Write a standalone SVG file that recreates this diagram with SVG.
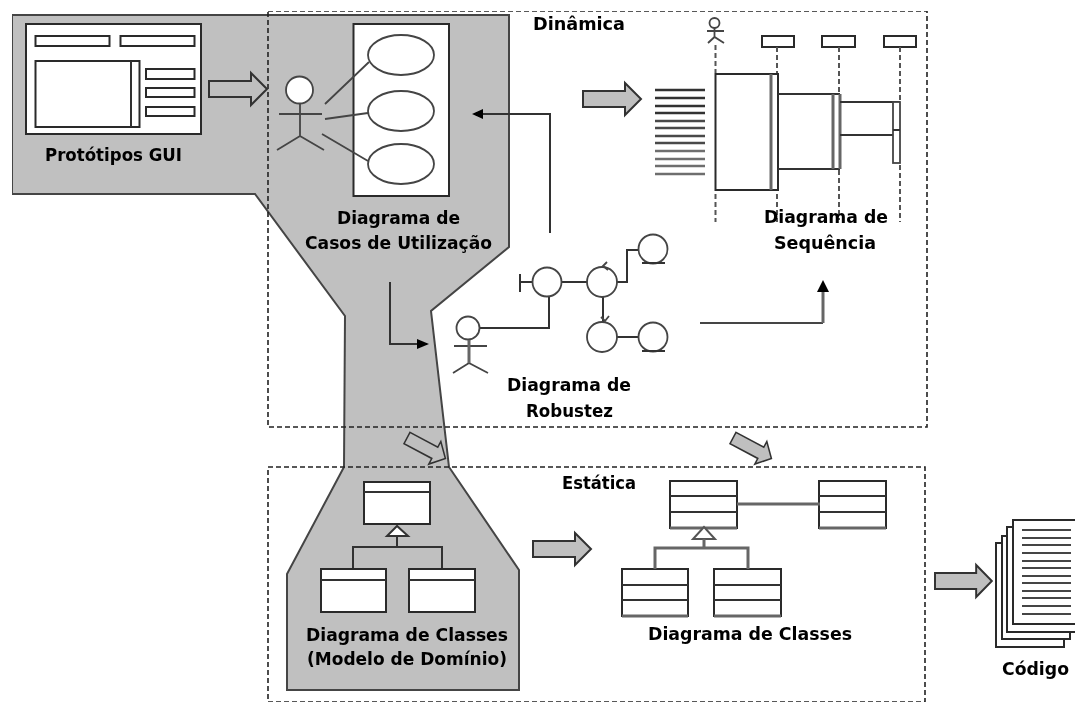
<svg xmlns="http://www.w3.org/2000/svg" width="1075" height="704" viewBox="0 0 1075 704">
<defs>
<style>
.t{font-family:"DejaVu Sans","Liberation Sans",sans-serif;font-weight:bold;font-size:17.5px;fill:#000;text-anchor:start}
.box{fill:#fff;stroke:#2a2a2a;stroke-width:2}
.ln{fill:none;stroke:#333;stroke-width:2}
.ln1{fill:none;stroke:#444;stroke-width:1.8}
.g{fill:none;stroke:#666;stroke-width:3}
.c{fill:#fff;stroke:#444;stroke-width:1.8}
.arw{fill:#bfbfbf;stroke:#333;stroke-width:2}
.ds{fill:none;stroke:#222;stroke-width:1.6;stroke-dasharray:5 3}
.ll{fill:none;stroke:#555;stroke-width:2;stroke-dasharray:5 3}
.head{fill:#000}
</style>
<filter id="soft" x="0" y="0" width="100%" height="100%"><feGaussianBlur stdDeviation="0.45"/></filter>
<polygon id="block" points="0,-8 42,-8 42,-16 58,0 42,16 42,8 0,8"/>
</defs>
<rect width="1075" height="704" fill="#fff"/>
<g filter="url(#soft)">
<g id="regiao-cinza"><polygon points="12,15 509,15 509,247 431,311 449,467 519,570 519,690 287,690 287,574 344,467 345,316 255,194 12,194" fill="#c0c0c0" stroke="#444" stroke-width="2"/></g>
<g id="dinamica"><rect class="ds" x="268" y="11" width="659" height="416"/><text class="t" x="533" y="30" textLength="92" lengthAdjust="spacingAndGlyphs">Dinâmica</text></g>
<g id="estatica"><rect class="ds" x="268" y="467" width="657" height="235"/><text class="t" x="562" y="489" textLength="74" lengthAdjust="spacingAndGlyphs">Estática</text></g>
<g id="prototipos">
<rect class="box" x="26" y="24" width="175" height="110"/>
<rect class="box" x="35.500" y="36" width="74" height="10"/>
<rect class="box" x="120.500" y="36" width="74" height="10"/>
<rect class="box" x="35.500" y="61" width="104" height="66"/>
<path class="ln" d="M131 61V127"/>
<rect class="box" x="146" y="69" width="48.500" height="10"/>
<rect class="box" x="146" y="88" width="48.500" height="9"/>
<rect class="box" x="146" y="107" width="48.500" height="9"/>
<text class="t" x="45" y="161" textLength="137" lengthAdjust="spacingAndGlyphs">Protótipos GUI</text>
</g>
<g id="casos-de-utilizacao">
<rect class="box" x="353.500" y="24" width="95.500" height="172"/>
<ellipse class="c" cx="401" cy="55" rx="33" ry="20"/>
<ellipse class="c" cx="401" cy="111" rx="33" ry="20"/>
<ellipse class="c" cx="401" cy="164" rx="33" ry="20"/>
<circle class="c" cx="299.500" cy="90" r="13.500"/>
<path class="ln1" d="M300 104V136M279 114H322M277 150L300 136L324 150M325 104L369 62M325 119L368 113M322 134L368 161"/>
<text class="t" x="337" y="224" textLength="123" lengthAdjust="spacingAndGlyphs">Diagrama de</text>
<text class="t" x="305" y="249" textLength="187" lengthAdjust="spacingAndGlyphs">Casos de Utilização</text>
</g>
<g id="sequencia">
<circle cx="714.500" cy="23" r="5" class="c"/>
<path class="ln1" d="M714.500 28V37M707 31H724M708 43L714.500 37L724 43"/>
<rect class="box" x="762" y="36" width="32" height="11"/>
<rect class="box" x="822" y="36" width="33" height="11"/>
<rect class="box" x="884" y="36" width="32" height="11"/>
<path class="ll" d="M715.500 45V73M715.500 194V222M777 47V73M777 194V222M839 47V94M839 170V220M900 47V100M900 165V222"/>
<g fill="none" stroke-width="2.500">
<path stroke="#333" d="M655 90H705M655 98H705M655 106H705M655 113H705"/>
<path stroke="#4a4a4a" d="M655 121H705M655 128H705M655 136H705M655 143H705"/>
<path stroke="#6e6e6e" d="M655 151H705M655 159H705M655 166H705M655 174H705"/>
</g>
<rect class="box" x="715.500" y="74" width="62.500" height="116"/>
<path class="g" d="M771 74V190"/>
<path class="ln" d="M778 94H840M778 169H840"/>
<path class="g" d="M833 94V169M840 94V169"/>
<path class="ln" d="M840 102H900M840 135H900"/>
<rect fill="#fff" stroke="#444" stroke-width="1.800" x="893" y="102" width="7" height="61"/>
<path class="ln" d="M893 130H900"/>
<text class="t" x="764" y="223" textLength="124" lengthAdjust="spacingAndGlyphs">Diagrama de</text>
<text class="t" x="774" y="249" textLength="102" lengthAdjust="spacingAndGlyphs">Sequência</text>
</g>
<g id="robustez">
<path class="ln" d="M520 274V292M520 282H533M562 282H587M617 282H627V250H639M603 296V322M617 337H639M480 328H549V296"/>
<circle class="c" cx="547" cy="282" r="14.500"/>
<circle class="c" cx="602" cy="282" r="15"/>
<circle class="c" cx="653" cy="249" r="14.500"/>
<circle class="c" cx="602" cy="337" r="15"/>
<circle class="c" cx="653" cy="337" r="14.500"/>
<path class="ln" d="M642 263H665M642 351H665"/>
<path class="ln1" d="M607 262L603 266L608 270M601 317L605 321L609 316"/>
<circle class="c" cx="468" cy="328" r="11.500"/>
<path class="ln1" d="M454 346H487M453 373L469 363L488 373"/>
<path class="g" d="M469 340V363"/>
<text class="t" x="507" y="391" textLength="124" lengthAdjust="spacingAndGlyphs">Diagrama de</text>
<text class="t" x="526" y="417" textLength="87" lengthAdjust="spacingAndGlyphs">Robustez</text>
</g>
<g id="classes-dominio">
<rect class="box" x="364" y="482" width="66" height="42"/>
<path class="ln" d="M364 492H430"/>
<polygon points="397,526 387,536 408,536" fill="#fff" stroke="#333" stroke-width="2"/>
<path class="ln" d="M397 536V547M353 569V547H442V569"/>
<rect class="box" x="321" y="569" width="65" height="43"/>
<rect class="box" x="409" y="569" width="66" height="43"/>
<path class="ln" d="M321 580H386M409 580H475"/>
<text class="t" x="306" y="641" textLength="202" lengthAdjust="spacingAndGlyphs">Diagrama de Classes</text>
<text class="t" x="307" y="665" textLength="200" lengthAdjust="spacingAndGlyphs">(Modelo de Domínio)</text>
</g>
<g id="classes">
<rect class="box" x="670" y="481" width="67" height="47"/>
<rect class="box" x="819" y="481" width="67" height="47"/>
<rect class="box" x="622" y="569" width="66" height="47"/>
<rect class="box" x="714" y="569" width="67" height="47"/>
<path class="ln" d="M670 496H737M670 512H737M819 496H886M819 512H886M622 585H688M622 600H688M714 585H781M714 600H781"/>
<path class="g" d="M670 528H737M819 528H886M622 616H688M714 616H781M737 504H820"/>
<polygon points="704,527 693,539 715,539" fill="#fff" stroke="#555" stroke-width="2"/>
<path class="g" d="M704 539V548M655 569V548H748V569"/>
<text class="t" x="648" y="640" textLength="204" lengthAdjust="spacingAndGlyphs">Diagrama de Classes</text>
</g>
<g id="codigo">
<rect class="box" x="996" y="543" width="68" height="104"/>
<rect class="box" x="1002" y="536" width="68" height="103"/>
<rect class="box" x="1007" y="527" width="70" height="105"/>
<rect class="box" x="1013" y="520" width="64" height="104"/>
<path class="ln1" d="M1022 530H1071M1022 538H1071M1022 545H1071M1022 553H1071M1022 561H1071M1022 568H1071M1022 576H1071M1022 583H1071M1022 591H1071M1022 598H1071M1022 606H1071M1022 614H1071"/>
<text class="t" x="1002" y="675" textLength="67" lengthAdjust="spacingAndGlyphs">Código</text>
</g>
<g id="conectores">
<use href="#block" class="arw" transform="translate(209 89)"/>
<use href="#block" class="arw" transform="translate(583 99)"/>
<use href="#block" class="arw" transform="translate(533 549)"/>
<use href="#block" class="arw" transform="translate(935 581) scale(.98 1)"/>
<use href="#block" class="arw" transform="translate(407 438) rotate(28) scale(.75 .8)"/>
<use href="#block" class="arw" transform="translate(733 438) rotate(28) scale(.75 .8)"/>
<path class="ln" d="M550 233V114H482"/>
<polygon class="head" points="472,114 483,109 483,119"/>
<path class="ln" d="M390 282V344H418"/>
<polygon class="head" points="429,344 417,339 417,349"/>
<path class="ln1" d="M700 323H823"/>
<path class="g" d="M823 323V290"/>
<polygon class="head" points="823,280 817,292 829,292"/>
</g>
</g>
</svg>
